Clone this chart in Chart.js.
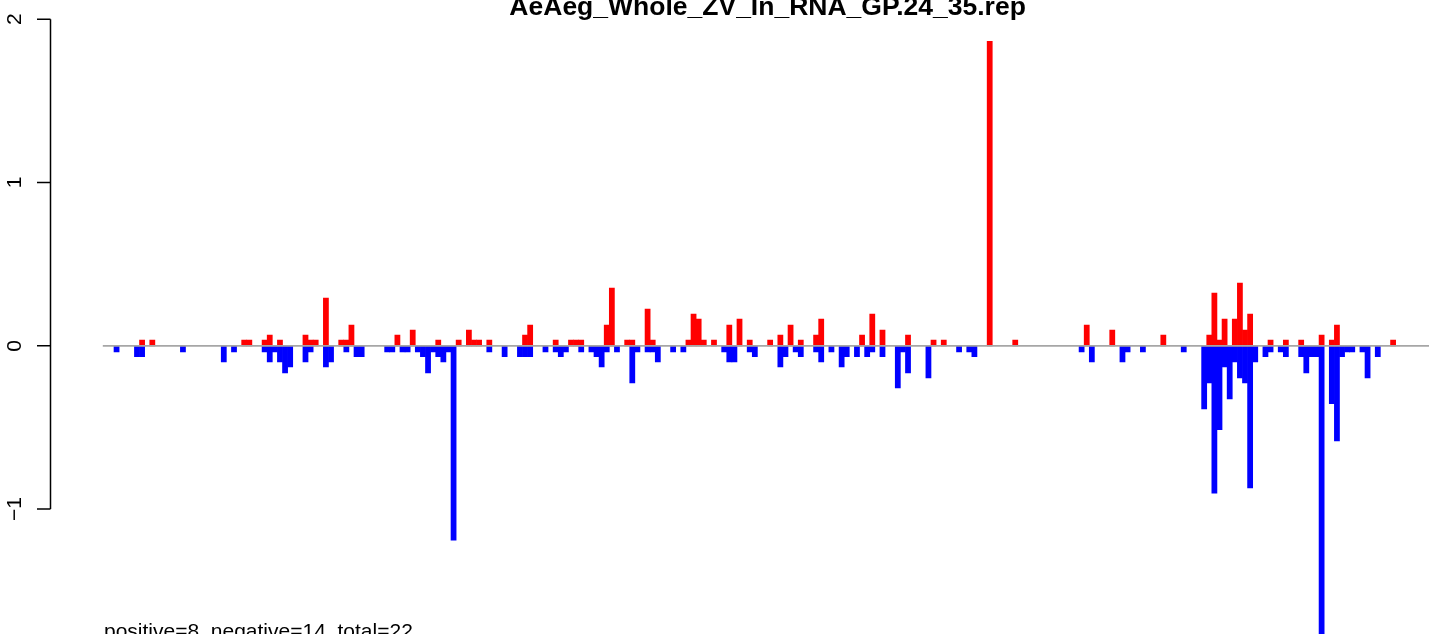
<!DOCTYPE html>
<html>
<head>
<meta charset="utf-8">
<script src="https://cdn.jsdelivr.net/npm/chart.js@4.4.1/dist/chart.umd.min.js"></script>
<style>
  html, body { margin: 0; padding: 0; background: #fff; }
  #wrap { position: relative; width: 1429px; height: 634px; overflow: hidden; }
  #chart { position: absolute; left: 0; top: 0; }
</style>
</head>
<body>
<div id="wrap"><canvas id="chart" width="1500" height="720"></canvas></div>
<script>
// chart text
const chartTitle = 'AeAeg_Whole_ZV_In_RNA_GP.24_35.rep';
const footNote = 'positive=8, negative=14, total=22';

// bar positions (0-based slot) and heights
const nSlots = 260;
const posIdx = [7, 9, 27, 28, 31, 32, 34, 39, 40, 41,
  43, 46, 47, 48, 57, 60, 65, 69, 71, 72,
  73, 75, 82, 83, 88, 91, 92, 93, 98, 99,
  102, 103, 106, 107, 114, 115, 116, 117, 119, 122,
  124, 126, 130, 132, 134, 136, 139, 140, 148, 150,
  152, 157, 162, 164, 173, 178, 192, 197, 207, 216,
  217, 218, 219, 221, 222, 223, 224, 228, 231, 234,
  238, 240, 241, 252];
const posVal = [0.035, 0.035, 0.035, 0.035, 0.035, 0.065, 0.035, 0.065, 0.035, 0.035,
  0.292, 0.035, 0.035, 0.127, 0.065, 0.096, 0.035, 0.035, 0.096, 0.035,
  0.035, 0.035, 0.065, 0.127, 0.035, 0.035, 0.035, 0.035, 0.127, 0.354,
  0.035, 0.035, 0.225, 0.035, 0.035, 0.194, 0.164, 0.035, 0.035, 0.127,
  0.164, 0.035, 0.035, 0.065, 0.127, 0.035, 0.065, 0.164, 0.065, 0.194,
  0.096, 0.065, 0.035, 0.035, 1.865, 0.035, 0.127, 0.096, 0.065, 0.065,
  0.323, 0.035, 0.164, 0.164, 0.384, 0.096, 0.194, 0.035, 0.035, 0.035,
  0.065, 0.035, 0.127, 0.035];
const negIdx = [2, 6, 7, 15, 23, 25, 31, 32, 33, 34,
  35, 36, 39, 40, 43, 44, 47, 49, 50, 55,
  56, 58, 59, 61, 62, 63, 64, 65, 66, 67,
  68, 75, 78, 81, 82, 83, 86, 88, 89, 90,
  93, 95, 96, 97, 98, 100, 103, 104, 106, 107,
  108, 111, 113, 121, 122, 123, 126, 127, 132, 133,
  135, 136, 139, 140, 142, 144, 145, 147, 149, 150,
  152, 155, 156, 157, 161, 167, 169, 170, 191, 193,
  199, 200, 203, 211, 215, 216, 217, 218, 219, 220,
  221, 222, 223, 224, 225, 227, 228, 230, 231, 234,
  235, 236, 237, 238, 240, 241, 242, 243, 244, 246,
  247, 249];
const negVal = [-0.037, -0.067, -0.067, -0.037, -0.098, -0.037, -0.037, -0.098, -0.037, -0.098,
  -0.166, -0.129, -0.098, -0.037, -0.129, -0.098, -0.037, -0.067, -0.067, -0.037,
  -0.037, -0.037, -0.037, -0.037, -0.067, -0.166, -0.037, -0.067, -0.098, -0.037,
  -1.19, -0.037, -0.067, -0.067, -0.067, -0.067, -0.037, -0.037, -0.067, -0.037,
  -0.037, -0.037, -0.067, -0.129, -0.037, -0.037, -0.227, -0.037, -0.037, -0.037,
  -0.098, -0.037, -0.037, -0.037, -0.098, -0.098, -0.037, -0.067, -0.129, -0.067,
  -0.037, -0.067, -0.037, -0.098, -0.037, -0.129, -0.067, -0.067, -0.067, -0.037,
  -0.067, -0.258, -0.037, -0.166, -0.196, -0.037, -0.037, -0.067, -0.037, -0.098,
  -0.098, -0.037, -0.037, -0.037, -0.387, -0.227, -0.902, -0.513, -0.129, -0.325,
  -0.098, -0.196, -0.227, -0.871, -0.098, -0.067, -0.037, -0.037, -0.067, -0.067,
  -0.166, -0.067, -0.067, -1.9, -0.354, -0.583, -0.067, -0.037, -0.037, -0.037,
  -0.196, -0.067];

const yTicks = [-1, 0, 1, 2];
const yTickLabels = ['\u22121', '0', '1', '2'];

// full series for the category axis
const labels = [];
const posData = [];
const negData = [];
for (let i = 0; i < nSlots; i++) {
  labels.push(String(i + 1));
  posData.push(null);
  negData.push(null);
}
posIdx.forEach((k, j) => { posData[k] = posVal[j]; });
negIdx.forEach((k, j) => { negData[k] = negVal[j]; });

const FONT = "'Liberation Sans', Arial, Helvetica, sans-serif";

// R-like decorations: zero line, left axis, title, footnote
const rDecor = {
  id: 'rDecor',
  afterDatasetsDraw(chart) {
    const { ctx, chartArea } = chart;
    const y = chart.scales.y;
    const y0 = y.getPixelForValue(0);
    ctx.save();

    ctx.strokeStyle = '#a6a6a6';
    ctx.lineWidth = 1.7;
    ctx.beginPath();
    ctx.moveTo(chartArea.left - 1, y0);
    ctx.lineTo(chartArea.right, y0);
    ctx.stroke();

    const axX = 50.5;
    ctx.strokeStyle = '#000';
    ctx.lineWidth = 1.5;
    ctx.beginPath();
    ctx.moveTo(axX, y.getPixelForValue(yTicks[0]));
    ctx.lineTo(axX, y.getPixelForValue(yTicks[yTicks.length - 1]));
    yTicks.forEach(v => {
      const py = y.getPixelForValue(v);
      ctx.moveTo(axX, py);
      ctx.lineTo(37, py);
    });
    ctx.stroke();

    ctx.fillStyle = '#000';
    ctx.font = '21px ' + FONT;
    ctx.textAlign = 'center';
    ctx.textBaseline = 'alphabetic';
    yTicks.forEach((v, i) => {
      ctx.save();
      ctx.translate(20.5, y.getPixelForValue(v));
      ctx.rotate(-Math.PI / 2);
      ctx.fillText(yTickLabels[i], 0, 0);
      ctx.restore();
    });

    ctx.font = 'bold 26.5px ' + FONT;
    ctx.textAlign = 'center';
    ctx.fillText(chartTitle, (chartArea.left + chartArea.right) / 2, 15);

    ctx.font = '21px ' + FONT;
    ctx.textAlign = 'left';
    ctx.fillText(footNote, 104, 638);
    ctx.restore();
  }
};

new Chart(document.getElementById('chart'), {
  type: 'bar',
  data: {
    labels: labels,
    datasets: [
      { label: 'positive', data: posData, backgroundColor: '#ff0000', borderWidth: 0,
        barPercentage: 1, categoryPercentage: 1 },
      { label: 'negative', data: negData, backgroundColor: '#0000ff', borderWidth: 0,
        barPercentage: 1, categoryPercentage: 1 }
    ]
  },
  options: {
    responsive: false,
    animation: false,
    devicePixelRatio: 1,
    layout: { padding: { left: 103.8, right: 68.6, top: 19.2, bottom: 47.6 } },
    scales: {
      x: { display: false, stacked: true, grid: { display: false } },
      y: { display: false, stacked: true, min: -2, max: 2, grid: { display: false } }
    },
    plugins: {
      legend: { display: false },
      tooltip: { enabled: false },
      title: { display: false }
    }
  },
  plugins: [rDecor]
});
</script>
</body>
</html>
